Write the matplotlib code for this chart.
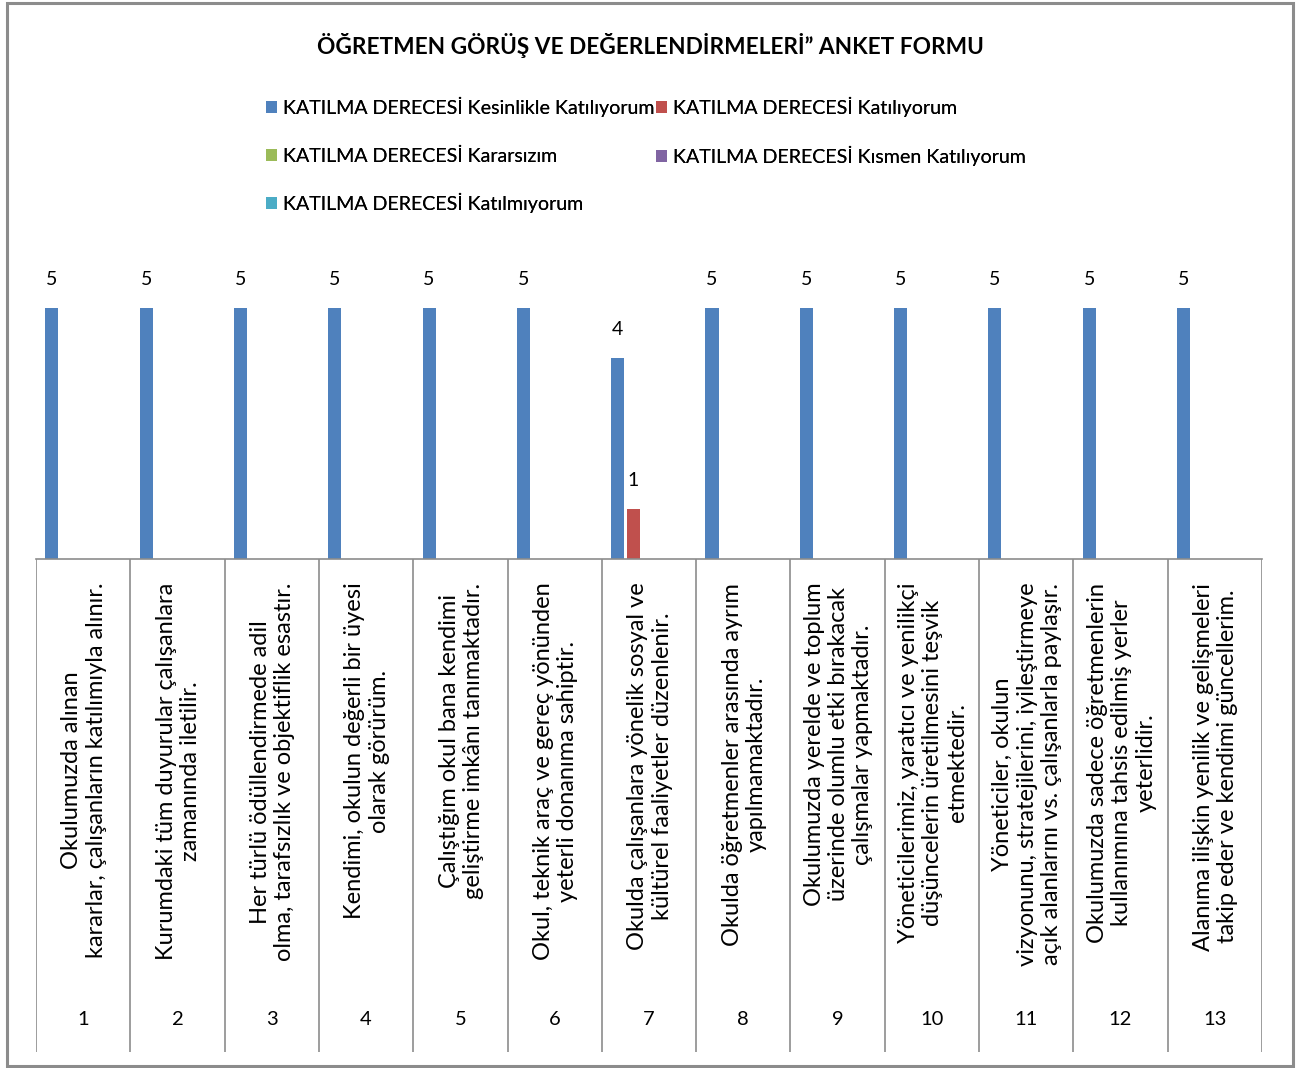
import matplotlib
matplotlib.use("Agg")
import matplotlib.pyplot as plt
from matplotlib.patches import Rectangle
import numpy as np

plt.rcParams['font.family'] = ['Lato', 'DejaVu Sans']

title = "ÖĞRETMEN GÖRÜŞ VE DEĞERLENDİRMELERİ” ANKET FORMU"
series_names = [
    "KATILMA DERECESİ Kesinlikle Katılıyorum",
    "KATILMA DERECESİ Katılıyorum",
    "KATILMA DERECESİ Kararsızım",
    "KATILMA DERECESİ Kısmen Katılıyorum",
    "KATILMA DERECESİ Katılmıyorum",
]
colors = ["#4F81BD", "#C0504D", "#9BBB59", "#8064A2", "#4BACC6"]

item_numbers = [str(i) for i in range(1, 14)]
statements = [
    "Okulumuzda alınan\nkararlar, çalışanların katılımıyla alınır.",
    "Kurumdaki tüm duyurular çalışanlara\nzamanında iletilir.",
    "Her türlü ödüllendirmede adil\nolma, tarafsızlık ve objektiflik esastır.",
    "Kendimi, okulun değerli bir üyesi\nolarak görürüm.",
    "Çalıştığım okul bana kendimi\ngeliştirme imkânı tanımaktadır.",
    "Okul, teknik araç ve gereç yönünden\nyeterli donanıma sahiptir.",
    "Okulda çalışanlara yönelik sosyal ve\nkültürel faaliyetler düzenlenir.",
    "Okulda öğretmenler arasında ayrım\nyapılmamaktadır.",
    "Okulumuzda yerelde ve toplum\nüzerinde olumlu etki bırakacak\nçalışmalar yapmaktadır.",
    "Yöneticilerimiz, yaratıcı ve yenilikçi\ndüşüncelerin üretilmesini teşvik\netmektedir.",
    "Yöneticiler, okulun\nvizyonunu, stratejilerini, iyileştirmeye\naçık alanlarını vs. çalışanlarla paylaşır.",
    "Okulumuzda sadece öğretmenlerin\nkullanımına tahsis edilmiş yerler\nyeterlidir.",
    "Alanıma ilişkin yenilik ve gelişmeleri\ntakip eder ve kendimi güncellerim.",
]

kesinlikle = [5, 5, 5, 5, 5, 5, 4, 5, 5, 5, 5, 5, 5]
katiliyorum = [0, 0, 0, 0, 0, 0, 1, 0, 0, 0, 0, 0, 0]
kararsizim = [0] * 13
kismen = [0] * 13
katilmiyorum = [0] * 13
values = [kesinlikle, katiliyorum, kararsizim, kismen, katilmiyorum]

W, H = 1303, 1068
fig = plt.figure(figsize=(W / 100, H / 100), dpi=100)
fig.patch.set_facecolor("white")

# outer frame
fig.add_artist(Rectangle((7 / W, 2 / H), (1293 - 7) / W, (1066 - 3) / H,
                         transform=fig.transFigure, fill=False,
                         edgecolor="#8c8c8c", linewidth=2.2))

left, right = 36 / W, 1262 / W
base = 559
ax = fig.add_axes([left, (H - base) / H, right - left, 301 / H])
tab = fig.add_axes([left, (H - 1052) / H, right - left, (1052 - base) / H])

n = len(statements)
x = np.arange(n) + 0.5
slot = 0.166
bw = 0.138
handles = []
for j, (vals, col) in enumerate(zip(values, colors)):
    bars = ax.bar(x + (j - 2) * slot, vals, width=bw, color=col,
                  label=series_names[j])
    handles.append(bars)
    for xi, v in zip(x + (j - 2) * slot, vals):
        if v:
            ax.annotate(str(v), (xi, v), xytext=(0, 20), textcoords="offset pixels",
                        ha="center", va="bottom", fontsize=14,
                        family=["Liberation Sans Narrow", "Lato"])

ax.set_xlim(0, n)
ax.set_ylim(0, 6)
ax.set_xticks([])
ax.set_yticks([])
for s in ["top", "left", "right"]:
    ax.spines[s].set_visible(False)
ax.spines["bottom"].set_color("#8c8c8c")
ax.spines["bottom"].set_linewidth(1.2)

tab.set_xlim(0, n)
tab.set_ylim(0, 1)
tab.axis("off")
tab.vlines(np.arange(n + 1), 0, 1, color="#8c8c8c", linewidth=1.2)
for xi, lab, num in zip(x, statements, item_numbers):
    tab.text(xi + 0.01, 0.952, lab, rotation=90, ha="center", va="top",
             multialignment="center", fontsize=17, linespacing=1.2)
    tab.text(xi, 0.065, num, ha="center", va="center", fontsize=14.5)

fig.text(650 / W, 1 - 45 / H, title, ha="center", va="center",
         fontsize=16.3, fontweight="bold")

leg_kw = dict(frameon=False, fontsize=14.1, handlelength=0.55, handleheight=0.55,
              handletextpad=0.3, borderpad=0, borderaxespad=0, loc="center left")
legend_pos = [(266, 107), (656, 107), (266, 156), (656, 156), (266, 203)]
for h, name, (px, py) in zip(handles, series_names, legend_pos):
    lg = fig.legend([h], [name], bbox_to_anchor=(px / W, 1 - py / H), **leg_kw)
    fig.add_artist(lg)

fig.savefig("out.png", dpi=100, facecolor="white")
